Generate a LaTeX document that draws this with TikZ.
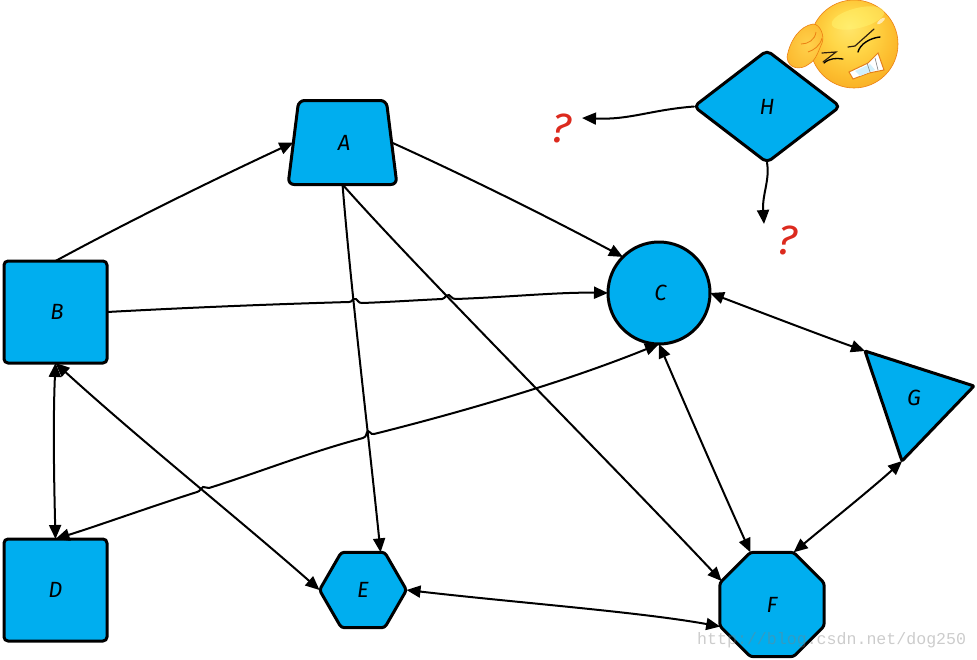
\documentclass[tikz,border=0pt]{standalone}
\usepackage{fontspec}
\setmainfont{Fira Sans}
\newfontfamily\wmfont{Liberation Mono}
\usetikzlibrary{arrows.meta,shapes.geometric}
\definecolor{nodeblue}{HTML}{00AEEF}
\definecolor{qred}{HTML}{DC2A1E}
\pgfdeclareradialshading{facegrad}{\pgfpoint{-0.1cm}{0.35cm}}{
  rgb(0bp)=(1,0.90,0.42); rgb(12bp)=(1,0.84,0.28); rgb(24bp)=(0.99,0.74,0.18); rgb(36bp)=(0.96,0.64,0.12); rgb(50bp)=(0.93,0.58,0.12)}
\pgfdeclareradialshading{handgrad}{\pgfpoint{0.1cm}{0.1cm}}{
  rgb(0bp)=(1,0.82,0.30); rgb(25bp)=(0.99,0.74,0.20); rgb(50bp)=(0.95,0.62,0.14)}
\tikzset{
  shapebox/.style={draw=black,fill=nodeblue,line width=3pt,inner sep=0pt,outer sep=0pt,font=\fontsize{22}{24}\selectfont\itshape,line join=round},
  conn/.style={draw=black,line width=2pt,-{Triangle[length=14pt,width=12pt]},line cap=round},
  both/.style={draw=black,line width=2pt,{Triangle[length=14pt,width=12pt]}-{Triangle[length=14pt,width=12pt]},line cap=round},
  qmark/.style={text=qred,font=\fontsize{42}{44}\selectfont\itshape,inner sep=0pt}
}
\begin{document}
\begin{tikzpicture}[x=1pt,y=-1pt]
\useasboundingbox (0,0) rectangle (977,659);
% emoji
\shade[shading=facegrad,draw=orange!70!brown,line width=.6pt] (854,44) circle (44);
\fill[yellow!55!white,opacity=.45,rotate around={14:(858,18)}] (858,18) ellipse (27 and 10);
\fill[white,opacity=.6,rotate around={40:(881,21)}] (881,21) ellipse (5 and 1.8);
\shade[shading=handgrad,draw=orange!70!brown,line width=.6pt] (787,57) .. controls (790,40) and (800,26) .. (813,24) .. controls (820,24) and (825,36) .. (822,43) .. controls (818,52) and (816,60) .. (809,64) .. controls (802,70) and (788,70) .. (787,57) -- cycle;
\draw[orange!70!brown,line width=.8pt] (801,44) .. controls (808,44) and (815,40) .. (816,32);
\draw[orange!70!brown,line width=.8pt] (808,52) .. controls (814,50) and (820,46) .. (822,38);
\draw[black!75!brown,line width=1.2pt,line cap=round] (822,53) -- (836,52) -- (823,62);
\draw[black,line width=1.3pt,line cap=round] (824,63) .. controls (830,58) and (836,58) .. (843,59);
\draw[black!75!brown,line width=1.2pt,line cap=round] (848,47) -- (855,46) -- (874,29);
\draw[black,line width=1.4pt,line cap=round] (858,52) .. controls (860,44) and (870,38) .. (880,37);
\path[fill=white,draw=orange!60!brown,line width=1pt] (849,72) -- (868,63) -- (878,53) -- (884,70) -- (869,73) -- (853,79) -- cycle;
\fill[cyan!18!white] (855,71) -- (870,64) -- (875,70) -- (860,76) -- cycle;
\draw[gray,line width=.6pt] (867,63) -- (870,72) (875,58) -- (878,70);
% shapes
\node[shapebox,rectangle,rounded corners=4pt,minimum width=103pt,minimum height=102pt] (B) at (55.5,312) {\hspace*{3pt}B};
\node[shapebox,rectangle,rounded corners=4pt,minimum width=103pt,minimum height=102pt] (D) at (55.5,590) {D};
\node[shapebox,trapezium,trapezium stretches=true,trapezium angle=83,rounded corners=6pt,minimum width=109pt,minimum height=84pt] (A) at (342.5,142.5) {\hspace*{3pt}A};
\node[shapebox,circle,minimum size=102pt] (C) at (659,293) {\hspace*{3pt}C};
\node[shapebox,regular polygon,regular polygon sides=6,rounded corners=3pt,minimum size=87pt] (E) at (363,590) {E};
\node[shapebox,regular polygon,regular polygon sides=8,rounded corners=3pt,minimum size=113pt] (F) at (772,604.5) {F};
\path[shapebox,rounded corners=1pt] (865,351) -- (974,386) -- (902,461) -- cycle;
\node[inner sep=0pt,outer sep=0pt,minimum width=110pt,minimum height=110pt] (G) at (920,406) {};
\node[font=\fontsize{22}{24}\selectfont\itshape,inner sep=0pt] (Gl) at (914,398) {G};
\node[shapebox,diamond,rounded corners=5pt,minimum width=146pt,minimum height=112pt] (H) at (767,106.5) {H};
\node[qmark,rotate=-8] (q1) at (561,128) {?};
\node[qmark,rotate=-8] (q2) at (787,240) {?};
\coordinate (q1end) at (582,118);
\coordinate (q2end) at (764,224);
% connectors
\draw[conn] (B.north) .. controls (120,226) and (200,186) .. (A.west);
\draw[conn] (A.east) .. controls (470,178) and (550,218) .. (C.135);
\draw[conn] (A.south) .. controls (352,300) and (368,430) .. (E.65);
\draw[conn] (A.south) .. controls (420,272) and (600,452) .. (F.155);
\draw[conn] (B.east) .. controls (200,307) and (280,304) .. (349,302)
  .. controls (353,302) and (352,298) .. (356,299) .. controls (358,300) and (358,303) .. (362,303)
  .. controls (390,302) and (420,300) .. (442,299)
  .. controls (446,298) and (445,295) .. (449,295) .. controls (452,296) and (451,299) .. (456,299)
  .. controls (510,297) and (560,292) .. (C.west);
\draw[both] (B.south) .. controls (53,420) and (54,480) .. (D.north);
\draw[both] (B.south) .. controls (140,440) and (240,520) .. (E.west);
\draw[both] (C.south) .. controls (570,380) and (470,410) .. (374,434)
  .. controls (370,435) and (371,431) .. (368,431) .. controls (366,432) and (367,437) .. (363,438)
  .. controls (310,452) and (260,472) .. (209,488)
  .. controls (206,489) and (206,486) .. (203,487) .. controls (200,488) and (201,491) .. (197,492)
  .. controls (150,507) and (100,525) .. (D.north);
\draw[both] (C.east) .. controls (760,312) and (820,335) .. (G.north west);
\draw[both] (C.south) .. controls (690,416) and (720,485) .. (F.corner 2);
\draw[both] (G.252) .. controls (870,490) and (830,522) .. (F.corner 1);
\draw[both] (E.east) .. controls (520,603) and (640,612) .. (F.203);
\draw[conn] (H.west) .. controls (650,110) and (630,120) .. (q1end);
\draw[conn] (H.south) .. controls (770,180) and (762,195) .. (q2end);
% watermark
\node[anchor=west,inner sep=0pt,text=gray,opacity=.4,font=\fontsize{16.6}{18}\selectfont\wmfont] (wm) at (697,640) {http://blog.csdn.net/dog250};
\end{tikzpicture}
\end{document}
